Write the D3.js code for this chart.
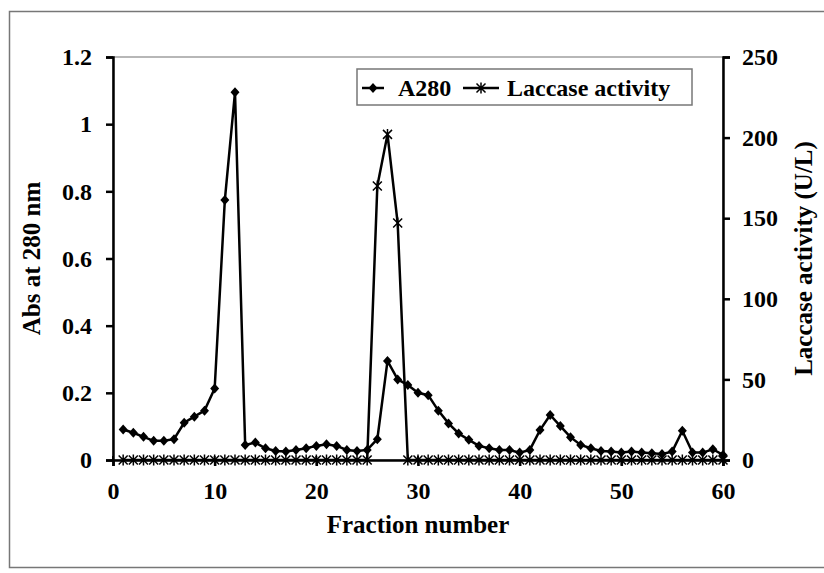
<!DOCTYPE html>
<html>
<head>
<meta charset="utf-8">
<script src="https://cdn.jsdelivr.net/npm/d3@7"></script>
<style>
  body { margin: 0; background: white; }
  text { font-family: "Liberation Serif", "Times New Roman", serif; font-weight: bold; }
</style>
</head>
<body>
<div id="chart"></div>
<script>
var svgWidth = 824;
var svgHeight = 573;

var margin = { top: 57, right: 101, bottom: 113, left: 113 };
var width = svgWidth - margin.left - margin.right;
var height = svgHeight - margin.top - margin.bottom;

// fraction numbers 1..60
var fractions = d3.range(1, 61);

var a280 = [
  0.091, 0.081, 0.069, 0.057, 0.057, 0.062, 0.111, 0.129, 0.147, 0.213,
  0.774, 1.095, 0.045, 0.052, 0.035, 0.027, 0.025, 0.030, 0.035, 0.042,
  0.047, 0.042, 0.030, 0.027, 0.030, 0.062, 0.295, 0.240, 0.223, 0.200,
  0.193, 0.147, 0.109, 0.079, 0.060, 0.042, 0.035, 0.030, 0.030, 0.022,
  0.030, 0.089, 0.134, 0.101, 0.068, 0.045, 0.035, 0.027, 0.025, 0.022,
  0.025, 0.022, 0.020, 0.018, 0.025, 0.087, 0.022, 0.022, 0.032, 0.015
];

var laccase = [
  0, 0, 0, 0, 0, 0, 0, 0, 0, 0,
  0, 0, 0, 0, 0, 0, 0, 0, 0, 0,
  0, 0, 0, 0, 0, 170, 202, 147, 0, 0,
  0, 0, 0, 0, 0, 0, 0, 0, 0, 0,
  0, 0, 0, 0, 0, 0, 0, 0, 0, 0,
  0, 0, 0, 0, 0, 0, 0, 0, 0, 0
];

var xTicks = [0, 10, 20, 30, 40, 50, 60];
var leftTicks = [0, 0.2, 0.4, 0.6, 0.8, 1, 1.2];
var rightTicks = [0, 50, 100, 150, 200, 250];

var fontSize = "24px";
var titleSize = "25px";

var svg = d3.select("#chart")
  .append("svg")
  .attr("width", svgWidth)
  .attr("height", svgHeight);

svg.append("rect")
  .attr("width", svgWidth)
  .attr("height", svgHeight)
  .attr("fill", "white");

// outer chart frame (runs off the right edge)
svg.append("rect")
  .attr("x", 9.5)
  .attr("y", 11.5)
  .attr("width", 830)
  .attr("height", 556)
  .attr("fill", "none")
  .attr("stroke", "#777")
  .attr("stroke-width", 1.5);

var chartGroup = svg.append("g")
  .attr("transform", `translate(${margin.left}, ${margin.top})`);

var xScale = d3.scaleLinear().domain([0, 60]).range([0, width]);
var yLeft = d3.scaleLinear().domain([0, 1.2]).range([height, 0]);
var yRight = d3.scaleLinear().domain([0, 250]).range([height, 0]);

// plot area border
chartGroup.append("rect")
  .attr("width", width)
  .attr("height", height)
  .attr("fill", "none")
  .attr("stroke", "#888")
  .attr("stroke-width", 1.2);

var bottomAxis = d3.axisBottom(xScale).tickValues(xTicks).tickSize(6).tickPadding(16).tickFormat(d3.format("d"));
var leftAxis = d3.axisLeft(yLeft).tickValues(leftTicks).tickSize(7).tickPadding(14).tickFormat(d => d3.format("")(+d.toFixed(1)));
var rightAxis = d3.axisRight(yRight).tickValues(rightTicks).tickSize(7).tickPadding(12);

function styleAxis(g) {
  g.select(".domain").attr("stroke", "black").attr("stroke-width", 2.5);
  g.selectAll(".tick line").attr("stroke", "black").attr("stroke-width", 2.5);
  g.selectAll(".tick text")
    .attr("font-family", "Liberation Serif, Times New Roman, serif")
    .attr("font-weight", "bold")
    .attr("font-size", fontSize)
    .attr("fill", "black");
}

chartGroup.append("g")
  .attr("transform", `translate(0, ${height})`)
  .call(bottomAxis)
  .call(styleAxis);

chartGroup.append("g")
  .call(leftAxis)
  .call(styleAxis);

chartGroup.append("g")
  .attr("transform", `translate(${width}, 0)`)
  .call(rightAxis)
  .call(styleAxis);

// x axis ticks cross the line
chartGroup.selectAll(".xcross")
  .data(xTicks)
  .enter()
  .append("line")
  .attr("x1", d => xScale(d))
  .attr("x2", d => xScale(d))
  .attr("y1", height - 4)
  .attr("y2", height)
  .attr("stroke", "black")
  .attr("stroke-width", 2);

// Laccase series
var lacLine = d3.line()
  .x((d, i) => xScale(fractions[i]))
  .y(d => yRight(d));

chartGroup.append("path")
  .datum(laccase)
  .attr("d", lacLine)
  .attr("fill", "none")
  .attr("stroke", "black")
  .attr("stroke-width", 2.5);

var star = "M-4.5,-4.5L4.5,4.5M-4.5,4.5L4.5,-4.5M0,-5.5L0,5.5";

chartGroup.selectAll(".lac")
  .data(laccase)
  .enter()
  .append("path")
  .attr("class", "lac")
  .attr("transform", (d, i) => `translate(${xScale(fractions[i])}, ${yRight(d)})`)
  .attr("d", star)
  .attr("stroke", "black")
  .attr("stroke-width", 1.5)
  .attr("fill", "none");

// A280 series
var absLine = d3.line()
  .x((d, i) => xScale(fractions[i]))
  .y(d => yLeft(d));

chartGroup.append("path")
  .datum(a280)
  .attr("d", absLine)
  .attr("fill", "none")
  .attr("stroke", "black")
  .attr("stroke-width", 2.5);

var diamond = "M0,-5L4.5,0L0,5L-4.5,0Z";

chartGroup.selectAll(".abs")
  .data(a280)
  .enter()
  .append("path")
  .attr("class", "abs")
  .attr("transform", (d, i) => `translate(${xScale(fractions[i])}, ${yLeft(d)})`)
  .attr("d", diamond)
  .attr("fill", "black");

// axis titles
svg.append("text")
  .attr("x", margin.left + width / 2)
  .attr("y", 533)
  .attr("text-anchor", "middle")
  .attr("font-size", titleSize)
  .text("Fraction number");

svg.append("text")
  .attr("transform", `translate(40, ${margin.top + height / 2}) rotate(-90)`)
  .attr("text-anchor", "middle")
  .attr("font-size", titleSize)
  .text("Abs at 280 nm");

svg.append("text")
  .attr("transform", `translate(812, ${margin.top + height / 2}) rotate(-90)`)
  .attr("text-anchor", "middle")
  .attr("font-size", titleSize)
  .text("Laccase activity (U/L)");

// legend
var legend = svg.append("g").attr("transform", "translate(357, 69)");

legend.append("rect")
  .attr("width", 335)
  .attr("height", 36)
  .attr("fill", "white")
  .attr("stroke", "#777")
  .attr("stroke-width", 1.5);

legend.append("line")
  .attr("x1", 5).attr("x2", 27).attr("y1", 19).attr("y2", 19)
  .attr("stroke", "black").attr("stroke-width", 2.5);
legend.append("path")
  .attr("transform", "translate(16, 19)")
  .attr("d", diamond)
  .attr("fill", "black");
legend.append("text")
  .attr("x", 41).attr("y", 27)
  .attr("font-size", fontSize)
  .text("A280");

legend.append("line")
  .attr("x1", 106).attr("x2", 142).attr("y1", 19).attr("y2", 19)
  .attr("stroke", "black").attr("stroke-width", 2.5);
legend.append("path")
  .attr("transform", "translate(124, 19)")
  .attr("d", star)
  .attr("stroke", "black")
  .attr("stroke-width", 1.5)
  .attr("fill", "none");
legend.append("text")
  .attr("x", 150).attr("y", 27)
  .attr("font-size", fontSize)
  .text("Laccase activity");
</script>
</body>
</html>
